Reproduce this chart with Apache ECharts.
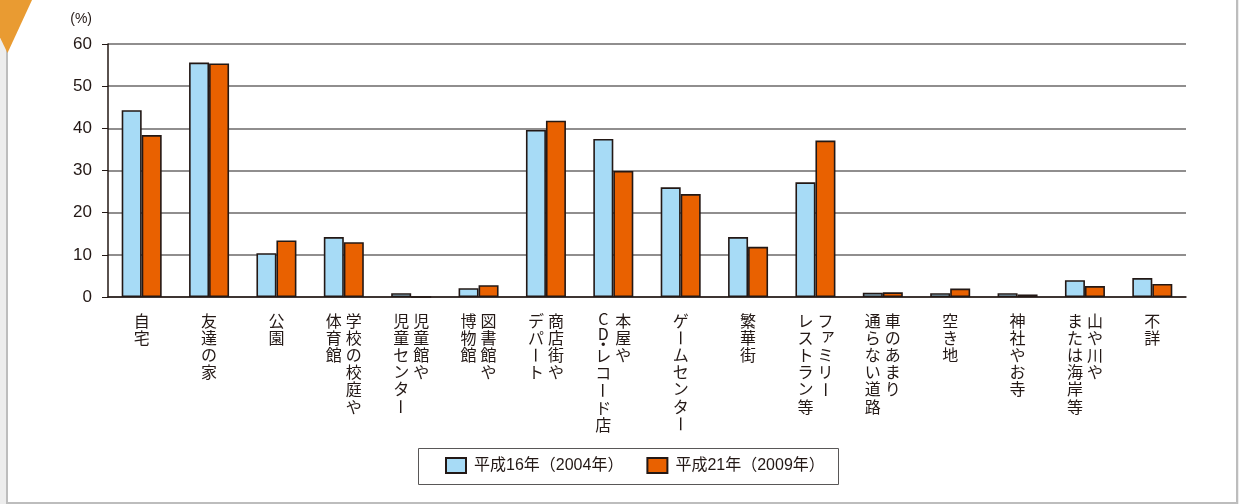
<!DOCTYPE html>
<html lang="ja">
<head>
<meta charset="utf-8">
<title>遊び場所の比較</title>
<script src="https://cdn.jsdelivr.net/npm/echarts@6/dist/echarts.min.js"></script>
<style>
  html, body { margin: 0; padding: 0; width: 1239px; height: 504px; overflow: hidden; background: #ededed; }
  #frame {
    position: absolute; left: 6px; top: 0; width: 1232px; height: 504px; box-sizing: border-box;
    background: #fff; border-left: 2px solid #bdbdbd; border-right: 2px solid #bdbdbd; border-bottom: 2px solid #bdbdbd;
  }
  #chart { position: absolute; left: 0; top: 0; width: 1239px; height: 504px; }
</style>
</head>
<body>
<div id="frame"></div>
<div id="chart"></div>
<script>
// Place names, written vertically; each inner array is one column, read right to left.
const placeLabels = [
  ['自宅'],
  ['友達の家'],
  ['公園'],
  ['学校の校庭や', '体育館'],
  ['児童館や', '児童センター'],
  ['図書館や', '博物館'],
  ['商店街や', 'デパート'],
  ['本屋や', 'CD・レコード店'],
  ['ゲームセンター'],
  ['繁華街'],
  ['ファミリー', 'レストラン等'],
  ['車のあまり', '通らない道路'],
  ['空き地'],
  ['神社やお寺'],
  ['山や川や', 'または海岸等'],
  ['不詳']
];
const categories = placeLabels.map(cols => cols.join(''));

const seriesNames = ['平成16年（2004年）', '平成21年（2009年）'];

// Share of respondents (%) for each place
const rate2004 = [44.3, 55.6, 10.4, 14.2, 0.9, 2.1, 39.6, 37.5, 26.0, 14.2, 27.2, 1.0, 0.9, 0.9, 4.0, 4.5];
const rate2009 = [38.4, 55.4, 13.4, 13.0, 0.0, 2.8, 41.8, 29.9, 24.4, 11.9, 37.1, 1.1, 2.0, 0.6, 2.6, 3.1];

const yTicks = { min: 0, max: 60, interval: 10 };

const TEXT = '#231815';
const FONT = '"Liberation Sans", "Noto Sans CJK JP", sans-serif';
const JP_FONT = '"Noto Sans CJK JP", sans-serif';
const PITCH = 17.2;

// Cell height of a character in a vertical column
function cellHeight(ch) {
  if (ch === '・') return PITCH * 0.35;
  if (/[A-Za-z]/.test(ch)) return PITCH * 0.85;
  return PITCH;
}

// Vertical-writing label for one category, drawn below the axis
function renderPlaceLabel(params, api) {
  const idx = api.value(0);
  const pt = api.coord([idx, 0]);
  const cols = placeLabels[idx];
  const children = [];
  cols.forEach((col, ci) => {
    const cx = pt[0] + (cols.length === 1 ? 0 : (ci === 0 ? 10 : -10));
    let top = pt[1] + 15;
    for (const ch of col) {
      const h = cellHeight(ch);
      let x = cx, y = top + h / 2;
      let rotation = 0;
      if (ch === 'ー') rotation = Math.PI / 2;
      if (ch === 'ァ') { x += 2.5; y -= 3; }
      children.push({
        type: 'text',
        x: x, y: y, rotation: rotation,
        style: {
          text: ch, x: 0, y: 0,
          fontSize: 16, fontFamily: JP_FONT, fill: TEXT,
          align: 'center', verticalAlign: 'middle'
        }
      });
      top += h;
    }
  });
  return { type: 'group', children: children };
}

const chart = echarts.init(document.getElementById('chart'));
chart.setOption({
  animation: false,
  textStyle: { fontFamily: FONT },
  grid: { left: 108, right: 53, top: 44, bottom: 207 },
  legend: {
    data: seriesNames,
    left: 445, top: 457, padding: 0,
    itemWidth: 20, itemHeight: 15, itemGap: 23,
    icon: 'rect',
    textStyle: { fontSize: 16, color: TEXT, fontFamily: FONT, padding: [0, 0, 0, 3] }
  },
  graphic: [
    {
      type: 'rect',
      shape: { x: 418.5, y: 448.5, width: 420, height: 36 },
      style: { fill: 'none', stroke: '#595757', lineWidth: 1 },
      silent: true
    },
    {
      type: 'polygon',
      shape: { points: [[-18, 0], [32, 0], [7.5, 53]] },
      style: { fill: '#e99b32' },
      silent: true, z: 10
    }
  ],
  xAxis: {
    type: 'category',
    data: categories,
    boundaryGap: true,
    axisLine: { lineStyle: { color: TEXT, width: 1.5 } },
    axisTick: { inside: true, length: 6, lineStyle: { color: '#3e3a39', width: 1.5 } },
    axisLabel: { show: false },
    splitLine: { show: false }
  },
  yAxis: {
    type: 'value',
    min: yTicks.min, max: yTicks.max, interval: yTicks.interval,
    name: '(%)',
    nameLocation: 'end',
    nameGap: 18,
    nameTextStyle: { color: TEXT, fontSize: 14, align: 'right', padding: [0, 16, 0, 0] },
    axisLine: { show: true, lineStyle: { color: TEXT, width: 1.5 } },
    axisTick: { show: true, length: 6, lineStyle: { color: TEXT } },
    axisLabel: { color: TEXT, fontSize: 17, margin: 16 },
    splitLine: { lineStyle: { color: '#6b6868', width: 1.5 } }
  },
  series: [
    {
      name: seriesNames[0], type: 'bar', data: rate2004,
      barWidth: 20, barGap: '0%',
      itemStyle: { color: '#a7dbf6', borderColor: TEXT, borderWidth: 1.6 }
    },
    {
      name: seriesNames[1], type: 'bar', data: rate2009,
      barWidth: 20, barGap: '0%',
      itemStyle: { color: '#e96100', borderColor: TEXT, borderWidth: 1.6 }
    },
    {
      name: 'placeLabels', type: 'custom',
      data: categories.map((c, i) => [i, 0]),
      encode: { x: 0, y: 1 },
      renderItem: renderPlaceLabel,
      clip: false, silent: true, z: 5
    }
  ]
});
</script>
</body>
</html>
